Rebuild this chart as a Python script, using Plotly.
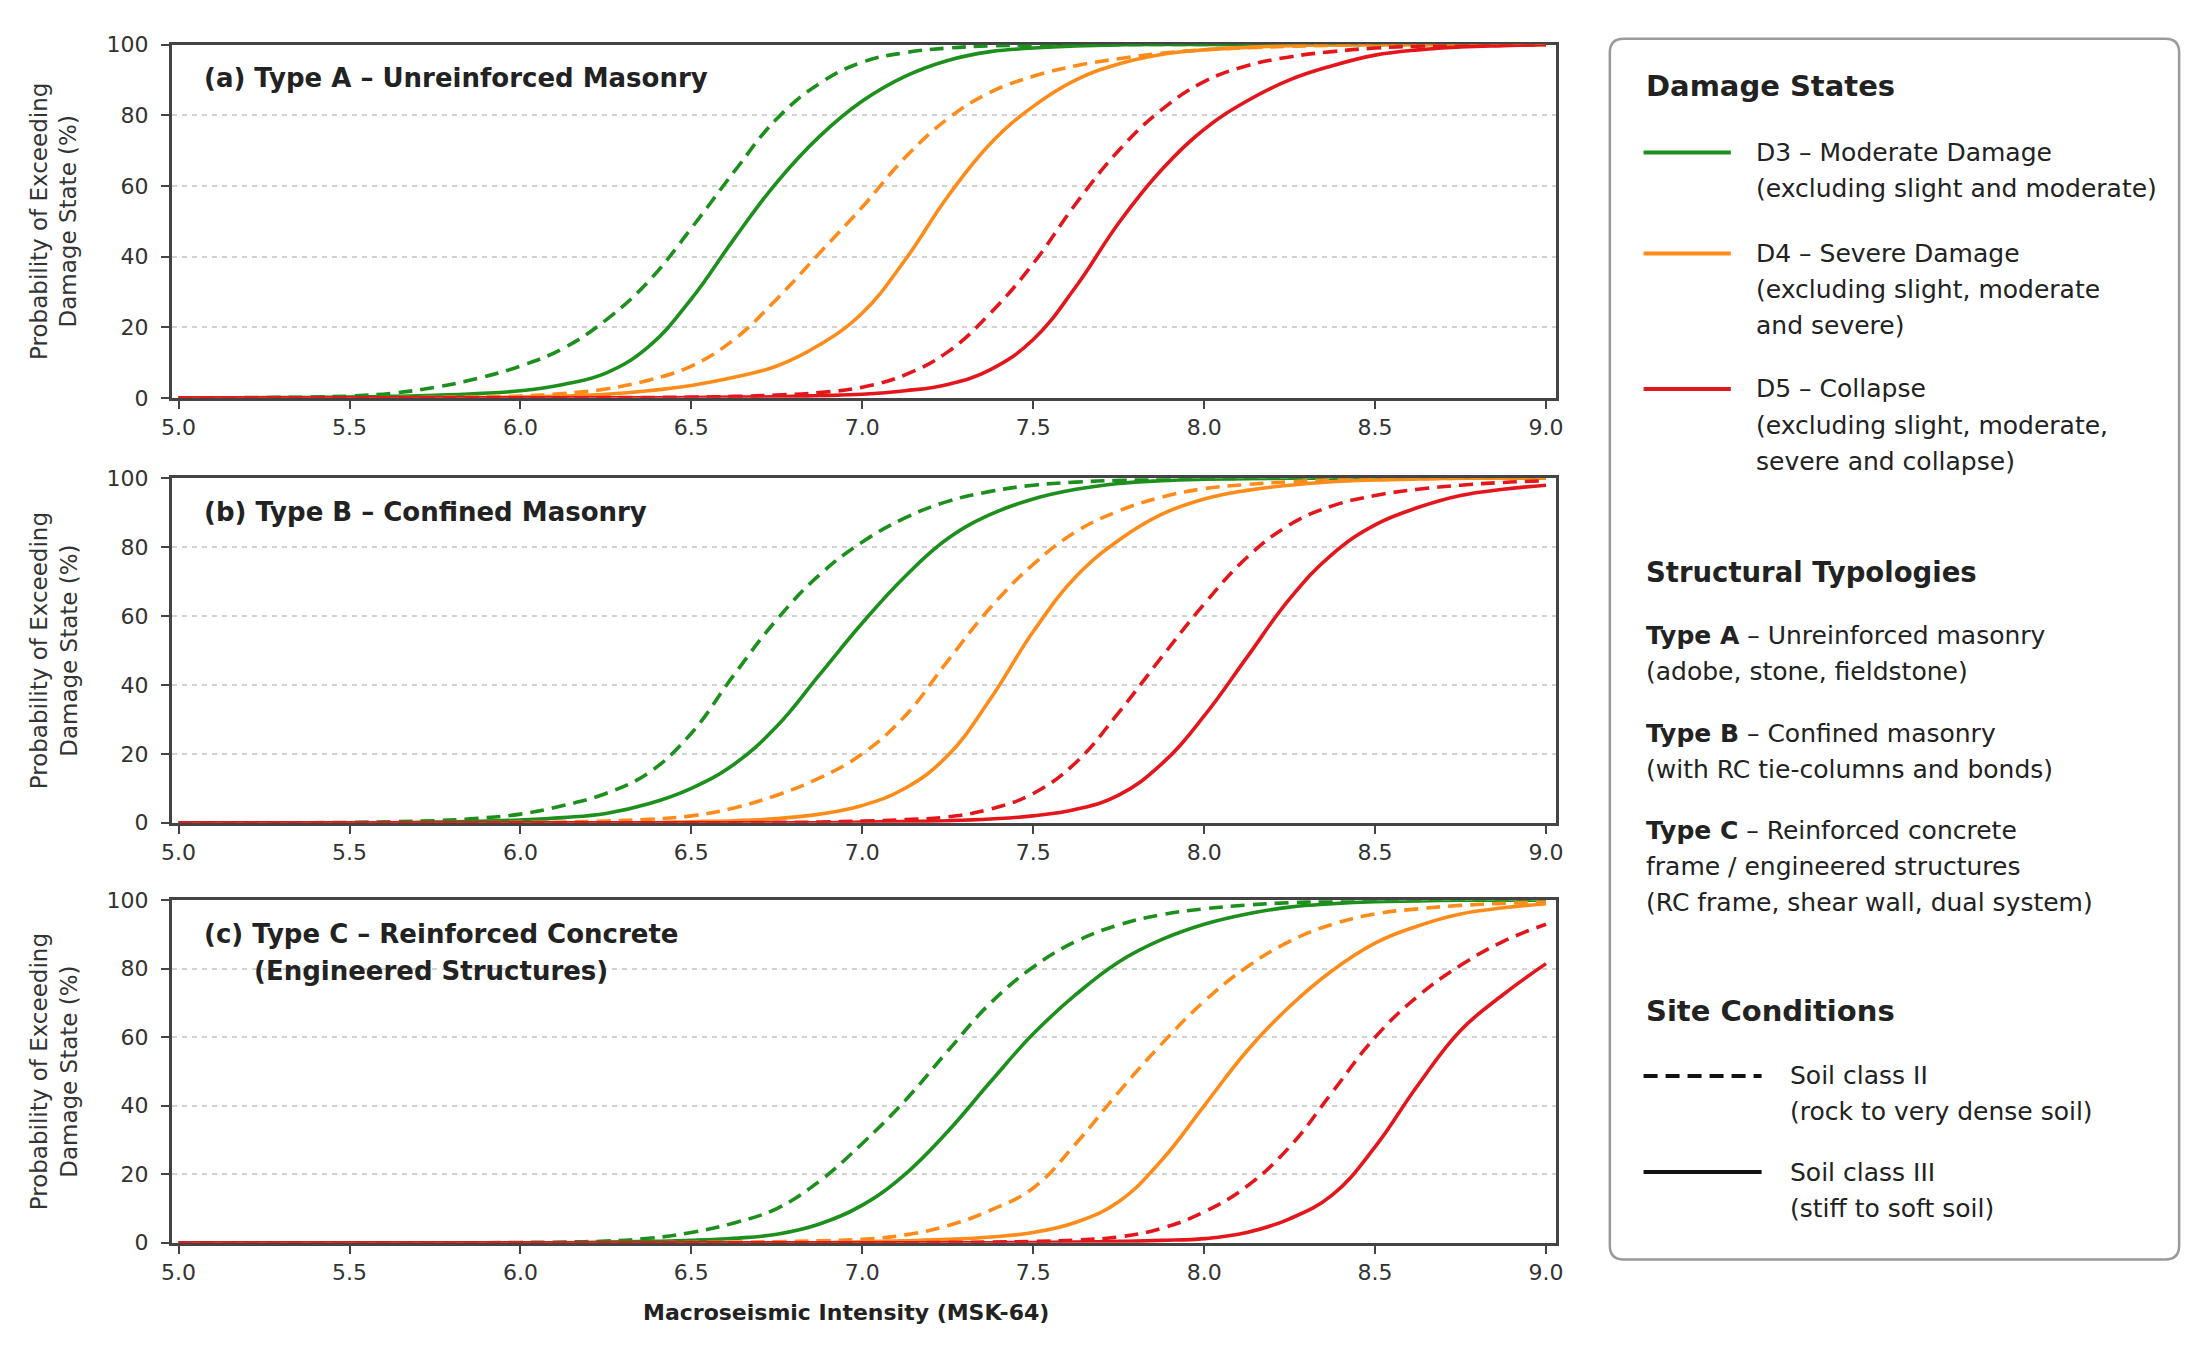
import plotly.graph_objects as go
from plotly.subplots import make_subplots

# the page body keeps an 8px margin, so the figure is drawn 8px in from the corner
PAGE_W, PAGE_H, BODY = 2210, 1357, 8
W, H = PAGE_W - 2 * BODY, PAGE_H - 2 * BODY
FONT = "DejaVu Sans"

# MSK-64 intensity points the curves were read at
intensity = [5.0, 5.125, 5.25, 5.375, 5.5, 5.625, 5.75, 5.875, 6.0, 6.125, 6.25,
             6.375, 6.5, 6.625, 6.75, 6.875, 7.0, 7.125, 7.25, 7.375, 7.5, 7.625,
             7.75, 7.875, 8.0, 8.125, 8.25, 8.375, 8.5, 8.625, 8.75, 8.875, 9.0]
x_ticks = [5.0, 5.5, 6.0, 6.5, 7.0, 7.5, 8.0, 8.5, 9.0]
y_ticks = [0, 20, 40, 60, 80, 100]

# probability of exceeding damage state (%), soil II = dashed, soil III = solid
# (a) Type A - unreinforced masonry
a_d3_soil2 = [0, 0, 0.1, 0.2, 0.5, 1.3, 3, 5.5, 9, 14, 22, 33, 48, 64, 79, 89, 95,
              97.7, 99, 99.6, 99.8, 100, 100, 100, 100, 100, 100, 100, 100, 100, 100, 100, 100]
a_d3_soil3 = [0, 0, 0.05, 0.1, 0.2, 0.4, 0.7, 1.2, 2, 3.8, 7, 14.5, 28, 45, 61, 74, 84,
              91, 95.5, 98, 99, 99.6, 99.9, 100, 100, 100, 100, 100, 100, 100, 100, 100, 100]
a_d4_soil2 = [0, 0, 0, 0, 0, 0.05, 0.1, 0.25, 0.5, 1.2, 2.5, 5, 9, 16.5, 28, 41, 54,
              68, 79, 86.5, 91, 94, 96, 97.5, 98.5, 99.1, 99.5, 99.8, 100, 100, 100, 100, 100]
a_d4_soil3 = [0, 0, 0, 0, 0, 0, 0.05, 0.1, 0.2, 0.5, 1, 2, 3.5, 5.8, 9, 15, 24,
              39, 57, 72, 82.5, 90, 94.5, 97.2, 98.5, 99.2, 99.7, 99.9, 100, 100, 100, 100, 100]
a_d5_soil2 = [0, 0, 0, 0, 0, 0, 0, 0, 0, 0, 0.05, 0.1, 0.2, 0.4, 0.8, 1.5, 3,
              6.5, 13, 24, 38, 55, 70, 81.5, 89.5, 94, 96.5, 98, 99, 99.5, 99.8, 99.9, 100]
a_d5_soil3 = [0, 0, 0, 0, 0, 0, 0, 0, 0, 0, 0, 0, 0.1, 0.2, 0.3, 0.6, 1,
              2, 3.8, 8, 16.5, 31.5, 49.5, 64.5, 76, 84, 90, 94, 97, 98.5, 99.3, 99.7, 100]

# (b) Type B - confined masonry
b_d3_soil2 = [0, 0, 0, 0, 0.1, 0.3, 0.6, 1.3, 2.5, 5, 8.5, 14.5, 26, 43, 59, 72, 81.5,
              88.5, 93.3, 96.2, 98, 98.9, 99.4, 99.7, 99.9, 100, 100, 100, 100, 100, 100, 100, 100]
b_d3_soil3 = [0, 0, 0, 0, 0, 0, 0.2, 0.4, 0.8, 1.5, 2.7, 5.5, 10, 17, 28, 43, 58,
              71.5, 82.5, 89.5, 94, 96.8, 98.5, 99.3, 99.7, 99.9, 100, 100, 100, 100, 100, 100, 100]
b_d4_soil2 = [0, 0, 0, 0, 0, 0, 0, 0, 0.1, 0.2, 0.5, 1, 2, 4.3, 8, 13, 20,
              31, 47, 62.5, 75, 84.5, 90.5, 94.5, 97, 98.2, 99, 99.5, 99.8, 99.9, 100, 100, 100]
b_d4_soil3 = [0, 0, 0, 0, 0, 0, 0, 0, 0, 0, 0, 0, 0.3, 0.6, 1.2, 2.5, 5,
              10, 19.5, 36, 55.5, 71.5, 82, 89.5, 94, 96.5, 98, 99, 99.5, 99.8, 100, 100, 100]
b_d5_soil2 = [0, 0, 0, 0, 0, 0, 0, 0, 0, 0, 0, 0, 0, 0, 0.1, 0.2, 0.5,
              0.9, 1.7, 4, 8.5, 17.5, 32, 48, 63.5, 77, 86.5, 92, 95, 96.8, 98, 98.8, 99.3]
b_d5_soil3 = [0, 0, 0, 0, 0, 0, 0, 0, 0, 0, 0, 0, 0, 0, 0, 0, 0.2,
              0.35, 0.6, 1.1, 2, 3.9, 8, 17, 31, 48, 65, 78, 86.5, 91.5, 95, 96.8, 98]

# (c) Type C - reinforced concrete
c_d3_soil2 = [0, 0, 0, 0, 0, 0, 0, 0, 0.1, 0.2, 0.5, 1.3, 3, 5.8, 10, 18, 29,
              41.5, 56, 70, 80.5, 88, 92.8, 95.8, 97.5, 98.6, 99.3, 99.7, 100, 100, 100, 100, 100]
c_d3_soil3 = [0, 0, 0, 0, 0, 0, 0, 0, 0, 0, 0.2, 0.4, 0.7, 1.3, 2.5, 5.5, 11,
              20, 32.5, 47, 61, 72.5, 82, 88.5, 93, 96, 98, 99, 99.6, 99.8, 100, 100, 100]
c_d4_soil2 = [0, 0, 0, 0, 0, 0, 0, 0, 0, 0, 0, 0, 0.1, 0.2, 0.3, 0.6, 1,
              2.3, 5, 9.5, 16, 29, 44, 58, 70.5, 80.5, 88, 93, 96, 97.5, 98.5, 99.1, 99.5]
c_d4_soil3 = [0, 0, 0, 0, 0, 0, 0, 0, 0, 0, 0, 0, 0, 0, 0, 0, 0.3,
              0.6, 1, 1.7, 3, 6, 12, 24, 40, 56, 69, 79.5, 87.5, 92.5, 96, 97.8, 99]
c_d5_soil2 = [0, 0, 0, 0, 0, 0, 0, 0, 0, 0, 0, 0, 0, 0, 0, 0, 0,
              0, 0.1, 0.2, 0.4, 0.8, 1.7, 4.2, 9, 16.5, 28, 44, 60, 72, 81, 88, 93]
c_d5_soil3 = [0, 0, 0, 0, 0, 0, 0, 0, 0, 0, 0, 0, 0, 0, 0, 0, 0,
              0, 0, 0, 0.1, 0.2, 0.4, 0.7, 1.2, 3, 7, 14, 28, 46, 62, 72.5, 81.5]

state_colors = {"D3": "#1c8f1c", "D4": "#ff8c1a", "D5": "#e5161b"}
soil_dash = {"II": "14px,8px", "III": "solid"}

panels = [
    {"title": ["(a) Type A \u2013 Unreinforced Masonry"],
     "curves": {("D3", "II"): a_d3_soil2, ("D3", "III"): a_d3_soil3,
                ("D4", "II"): a_d4_soil2, ("D4", "III"): a_d4_soil3,
                ("D5", "II"): a_d5_soil2, ("D5", "III"): a_d5_soil3}},
    {"title": ["(b) Type B \u2013 Confined Masonry"],
     "curves": {("D3", "II"): b_d3_soil2, ("D3", "III"): b_d3_soil3,
                ("D4", "II"): b_d4_soil2, ("D4", "III"): b_d4_soil3,
                ("D5", "II"): b_d5_soil2, ("D5", "III"): b_d5_soil3}},
    {"title": ["(c) Type C \u2013 Reinforced Concrete", "(Engineered Structures)"],
     "curves": {("D3", "II"): c_d3_soil2, ("D3", "III"): c_d3_soil3,
                ("D4", "II"): c_d4_soil2, ("D4", "III"): c_d4_soil3,
                ("D5", "II"): c_d5_soil2, ("D5", "III"): c_d5_soil3}},
]

# page-pixel placement of each panel (top, bottom)
panel_px = [(33, 393), (475, 826), (905, 1254)]
plot_left, plot_right = 162, 1558


def px_x(px):
    return (px - BODY) / W


def px_y(py):
    return 1 - (py - BODY) / H


fig = make_subplots(rows=3, cols=1)

for row, panel in enumerate(panels, start=1):
    for (state, soil), vals in panel["curves"].items():
        fig.add_trace(
            go.Scatter(
                x=intensity, y=vals, mode="lines", showlegend=False,
                line=dict(color=state_colors[state], width=3.6,
                          dash=soil_dash[soil], shape="spline", smoothing=1.2),
                name=f"{state} soil {soil}",
            ),
            row=row, col=1,
        )

    top, bottom = panel_px[row - 1]
    fig.update_xaxes(
        domain=[px_x(plot_left), px_x(plot_right)], range=[4.98, 9.03],
        tickvals=x_ticks, tickformat=".1f", ticks="outside", ticklen=8,
        tickwidth=2, tickcolor="#444", showline=True, mirror=True,
        linecolor="#444", linewidth=2.5, showgrid=False, zeroline=False,
        tickfont=dict(family=FONT, size=22, color="#333"),
        layer="below traces", row=row, col=1,
    )
    fig.update_yaxes(
        domain=[px_y(bottom), px_y(top)], range=[0, 100],
        tickvals=y_ticks, ticks="outside", ticklen=8, tickwidth=2,
        tickcolor="#444", showline=True, mirror=True, linecolor="#444",
        linewidth=2.5, showgrid=True, gridcolor="#d2d2d2", gridwidth=1.5,
        griddash="5px,5px", zeroline=False, ticklabelstandoff=8,
        tickfont=dict(family=FONT, size=22, color="#333"),
        layer="below traces", row=row, col=1,
    )

annotations = []


def add_text(text, x, y, size=25, bold=False, anchor="left", color="#222"):
    if bold:
        text = f"<b>{text}</b>"
    annotations.append(dict(
        text=text, x=px_x(x), y=px_y(y), xref="paper", yref="paper",
        xanchor=anchor, yanchor="middle", showarrow=False,
        font=dict(family=FONT, size=size, color=color),
    ))


# panel titles and y titles
title_offsets = [(193, 0), (243, 38)]
for row, panel in enumerate(panels):
    top, bottom = panel_px[row]
    for i, line in enumerate(panel["title"]):
        dx, dy = title_offsets[i]
        add_text(line, dx, top + 34 + dy, size=26, bold=True)
    annotations.append(dict(
        text="Probability of Exceeding<br>Damage State (%)",
        x=px_x(43), y=px_y((top + bottom) / 2), xref="paper", yref="paper",
        xanchor="center", yanchor="middle", showarrow=False, textangle=-90,
        font=dict(family=FONT, size=23, color="#333"),
    ))

add_text("Macroseismic Intensity (MSK-64)", 842, 1325, size=22, bold=True, anchor="center")

# side legend box
box_l, box_r, box_t, box_b, rad = 1612, 2186, 27, 1271, 14
rx, ry = rad / W, rad / H
x0, x1, y0, y1 = px_x(box_l), px_x(box_r), px_y(box_b), px_y(box_t)
box_path = (
    f"M {x0 + rx},{y0} L {x1 - rx},{y0} Q {x1},{y0} {x1},{y0 + ry} "
    f"L {x1},{y1 - ry} Q {x1},{y1} {x1 - rx},{y1} "
    f"L {x0 + rx},{y1} Q {x0},{y1} {x0},{y1 - ry} "
    f"L {x0},{y0 + ry} Q {x0},{y0} {x0 + rx},{y0} Z"
)
shapes = [dict(type="path", path=box_path, xref="paper", yref="paper",
               line=dict(color="#9a9a9a", width=2.5), fillcolor="#ffffff", layer="below")]

line_gap = 36.7
head_x, text_x = 1646, 1757

add_text("Damage States", head_x, 75, size=29, bold=True)
damage_entries = [
    ("D3", 143, ["D3 \u2013 Moderate Damage", "(excluding slight and moderate)"]),
    ("D4", 246, ["D4 \u2013 Severe Damage", "(excluding slight, moderate", "and severe)"]),
    ("D5", 384, ["D5 \u2013 Collapse", "(excluding slight, moderate,", "severe and collapse)"]),
]
for state, y, lines in damage_entries:
    shapes.append(dict(type="line", xref="paper", yref="paper",
                       x0=px_x(head_x), x1=px_x(1734), y0=px_y(y), y1=px_y(y),
                       line=dict(color=state_colors[state], width=4)))
    for i, line in enumerate(lines):
        add_text(line, text_x, y + i * line_gap)

add_text("Structural Typologies", head_x, 570, size=27.5, bold=True)
typology_entries = [
    (635, ["<b>Type A</b> \u2013 Unreinforced masonry", "(adobe, stone, fieldstone)"]),
    (735, ["<b>Type B</b> \u2013 Confined masonry", "(with RC tie-columns and bonds)"]),
    (834, ["<b>Type C</b> \u2013 Reinforced concrete", "frame / engineered structures",
           "(RC frame, shear wall, dual system)"]),
]
for y, lines in typology_entries:
    for i, line in enumerate(lines):
        add_text(line, head_x, y + i * line_gap)

add_text("Site Conditions", head_x, 1018, size=29, bold=True)
soil_entries = [
    ("II", 1084, ["Soil class II", "(rock to very dense soil)"]),
    ("III", 1182, ["Soil class III", "(stiff to soft soil)"]),
]
for soil, y, lines in soil_entries:
    shapes.append(dict(type="line", xref="paper", yref="paper",
                       x0=px_x(head_x), x1=px_x(1765), y0=px_y(y), y1=px_y(y),
                       line=dict(color="#111", width=4, dash=soil_dash[soil])))
    for i, line in enumerate(lines):
        add_text(line, 1792, y + i * line_gap)

fig.update_layout(
    width=W, height=H, autosize=False,
    margin=dict(l=0, r=0, t=0, b=0),
    paper_bgcolor="#ffffff", plot_bgcolor="#ffffff",
    font=dict(family=FONT, color="#222"),
    annotations=annotations, shapes=shapes, showlegend=False,
)

fig.write_html("out.html")
